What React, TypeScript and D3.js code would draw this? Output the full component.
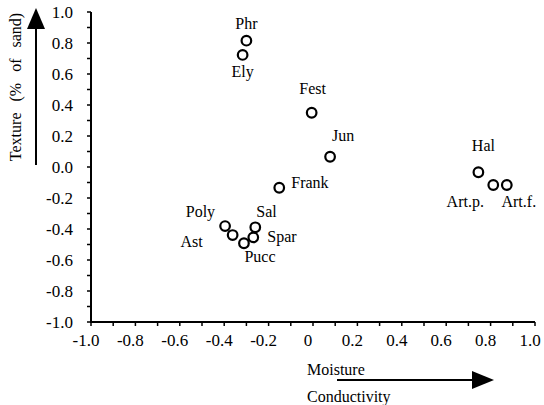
import React from "react";
import * as d3 from "d3";

const species = ["Phr", "Ely", "Fest", "Jun", "Frank", "Poly", "Ast", "Pucc", "Spar", "Sal", "Hal", "Art.p.", "Art.f."];
const moisture = [-0.30, -0.317, -0.006, 0.077, -0.152, -0.396, -0.362, -0.311, -0.269, -0.26, 0.745, 0.812, 0.873];
const texture = [0.815, 0.723, 0.35, 0.066, -0.134, -0.381, -0.439, -0.492, -0.454, -0.389, -0.034, -0.116, -0.116];

const xTickLabels = ["-1.0", "-0.8", "-0.6", "-0.4", "-0.2", "0", "0.2", "0.4", "0.6", "0.8", "1.0"];
const yTickLabels = ["1.0", "0.8", "0.6", "0.4", "0.2", "0.0", "-0.2", "-0.4", "-0.6", "-0.8", "-1.0"];

// label placement relative to its point: [dx, dy, anchor]
const labelLayout: Record<string, [number, number, string]> = {
  "Phr": [0, -12, "middle"],
  "Ely": [0, 22, "middle"],
  "Fest": [1, -19, "middle"],
  "Jun": [2, -16, "start"],
  "Frank": [12, 0, "start"],
  "Poly": [-10, -9, "end"],
  "Ast": [-30, 12, "end"],
  "Pucc": [16, 19, "middle"],
  "Spar": [14, 5, "start"],
  "Sal": [1, -10, "start"],
  "Hal": [5, -21, "middle"],
  "Art.p.": [-28, 22, "middle"],
  "Art.f.": [12, 22, "middle"],
};

const W = 544, H = 405;
const FONT = "'Liberation Serif', 'DejaVu Serif', serif";

export default function App() {
  const x = d3.scaleLinear().domain([-1, 1]).range([91, 535]);
  const y = d3.scaleLinear().domain([-1, 1]).range([322, 12]);
  const minor = d3.range(-10, 11).map((i) => i / 10);
  const major = d3.range(-5, 6).map((i) => i / 5);

  return (
    <svg width={W} height={H} style={{ position: "absolute", left: 0, top: 0, background: "#fff" }} fontFamily={FONT}>
      {/* axes */}
      <line x1={x(-1)} x2={x(1)} y1={y(-1)} y2={y(-1)} stroke="#000" strokeWidth={2} />
      <line x1={x(-1)} x2={x(-1)} y1={y(-1) + 1} y2={y(1)} stroke="#000" strokeWidth={2} />
      {minor.map((v, i) => (
        <line key={"xt" + i} x1={x(v)} x2={x(v)} y1={y(-1)} y2={y(-1) + 4} stroke="#000" strokeWidth={1.5} />
      ))}
      {minor.map((v, i) => (
        <line key={"yt" + i} x1={x(-1) - 4} x2={x(-1)} y1={y(v)} y2={y(v)} stroke="#000" strokeWidth={1.5} />
      ))}
      {major.map((v, i) => (
        <text key={"xl" + i} x={x(v) - 5} y={346} fontSize={17} textAnchor="middle" fill="#000">
          {xTickLabels[i]}
        </text>
      ))}
      {major.slice().reverse().map((v, i) => (
        <text key={"yl" + i} x={73} y={y(v)} fontSize={17} textAnchor="end" dominantBaseline="central" fill="#000">
          {yTickLabels[i]}
        </text>
      ))}

      {/* y title + arrow */}
      <text transform="translate(21,87) rotate(-90)" fontSize={16} textAnchor="middle" wordSpacing={7} fill="#000">
        Texture (% of sand)
      </text>
      <line x1={36} x2={36} y1={165} y2={26} stroke="#000" strokeWidth={2} />
      <path d="M27,29 L36,8 L45,29 Z" fill="#000" />

      {/* x title + arrow */}
      <text x={307} y={375} fontSize={16} fill="#000">Moisture</text>
      <text x={307} y={402} fontSize={16} fill="#000">Conductivity</text>
      <line x1={337} x2={474} y1={380} y2={380} stroke="#000" strokeWidth={2} />
      <path d="M472,371 L494,380 L472,389 Z" fill="#000" />

      {/* points */}
      {species.map((s, i) => (
        <circle key={"p" + s} cx={x(moisture[i])} cy={y(texture[i])} r={4.8} fill="#fff" stroke="#000" strokeWidth={2.2} />
      ))}
      {species.map((s, i) => {
        const [dx, dy, anchor] = labelLayout[s];
        return (
          <text key={"t" + s} x={x(moisture[i]) + dx} y={y(texture[i]) + dy} fontSize={16} textAnchor={anchor as any} fill="#000">
            {s}
          </text>
        );
      })}
    </svg>
  );
}
